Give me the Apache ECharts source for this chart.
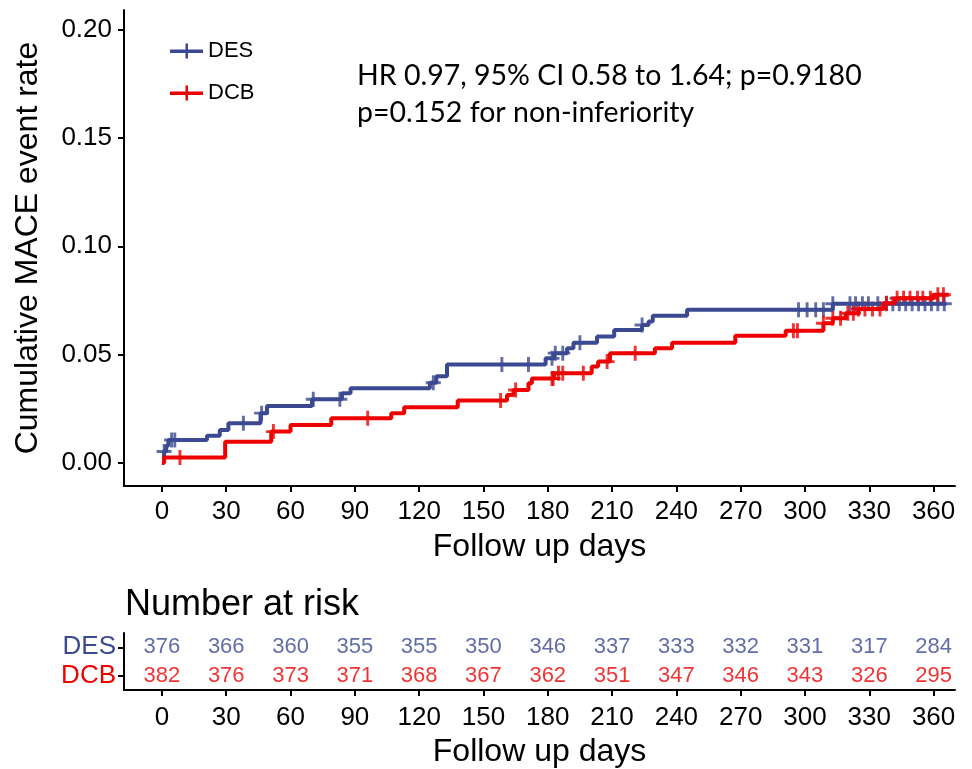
<!DOCTYPE html>
<html>
<head>
<meta charset="utf-8">
<script src="https://cdn.jsdelivr.net/npm/echarts@6/dist/echarts.min.js"></script>
<style>
  html, body { margin: 0; background: #fff; }
  #chart { width: 972px; height: 769px; }
</style>
</head>
<body>
<div id="chart"></div>
<script>
// groups and colours
const groups = ['DES', 'DCB'];
const colors = { DES: '#3B4992', DCB: '#EE0000' };

// axis ticks
const dayTicks = [0, 30, 60, 90, 120, 150, 180, 210, 240, 270, 300, 330, 360];
const rateTicks = [0, 0.05, 0.1, 0.15, 0.2];

// cumulative event rate steps [day, rate]
const desSteps = [
  [0, 0.0027], [1, 0.0053], [2, 0.008], [3, 0.0106], [21, 0.0126], [27, 0.0152],
  [31, 0.0183], [46, 0.023], [49, 0.0263], [70, 0.0294], [84, 0.0322], [88, 0.0345],
  [125, 0.037], [128, 0.040], [133, 0.0455], [179, 0.0483], [183, 0.0507], [189, 0.053],
  [192, 0.0555], [203, 0.0584], [211, 0.0614], [224, 0.0637], [227, 0.0653], [229, 0.068],
  [245, 0.0707], [313, 0.0735], [366, 0.0735]
];
const dcbSteps = [
  [0, 0], [1, 0.0026], [29.5, 0.0098], [51, 0.0145], [60, 0.0175], [79, 0.0207],
  [107, 0.023], [113, 0.0257], [138, 0.0288], [161, 0.0314], [164, 0.0337], [171, 0.0368],
  [172.6, 0.039], [183, 0.0414], [200.5, 0.0445], [203.5, 0.0468], [209, 0.0507], [230, 0.053],
  [238, 0.0555], [267.5, 0.0587], [291, 0.061], [308.6, 0.0645], [313, 0.0668], [319, 0.0691],
  [325, 0.0711], [336.6, 0.0737], [342, 0.076], [360, 0.0776], [367, 0.0776]
];

// censored times (days)
const desCensor = [1, 4.5, 6, 38, 46.5, 70.6, 83, 126.6, 158.6, 171, 182, 183.5, 187, 195, 224,
  297, 301, 305, 308.6, 313, 321, 323.6, 326.8, 329.6, 334, 338, 341, 344, 347, 350, 353, 356,
  359, 362, 365];
const dcbCensor = [8.4, 52, 96, 158, 165, 182, 182.5, 185, 187, 196.6, 207.7, 220.8, 294.6,
  296.5, 308.6, 313, 316.6, 320, 322.6, 325, 328, 331.5, 335, 338, 343, 346, 349, 352.5, 355,
  358.5, 362, 364.6];

// number at risk
const riskDES = [376, 366, 360, 355, 355, 350, 346, 337, 333, 332, 331, 317, 284];
const riskDCB = [382, 376, 373, 371, 368, 367, 362, 351, 347, 346, 343, 326, 295];

const stepsOf = { DES: desSteps, DCB: dcbSteps };
const censorOf = { DES: desCensor, DCB: dcbCensor };
const riskOf = { DES: riskDES, DCB: riskDCB };

const valueAt = (steps, t) => {
  let v = steps[0][1];
  for (const [x, y] of steps) if (x <= t) v = y;
  return v;
};

const FONT = 'Liberation Sans';
const plusPath = 'path://M5,0h2.4v12.4h-2.4zM0,5h12.4v2.4h-12.4z';
const legendIcon = 'path://M0,6h33v3.5h-33zM15.5,0h2.5v15h-2.5z';

const axisLineStyle = { show: true, onZero: false, lineStyle: { color: '#000', width: 2 } };
const tickStyle = { show: true, length: 6, lineStyle: { color: '#000', width: 2 } };

const xAxisBase = (gridIndex, margin, nameGap) => ({
  type: 'value', gridIndex, min: -17.7, max: 370,
  axisLine: axisLineStyle,
  axisTick: Object.assign({ customValues: dayTicks }, tickStyle),
  axisLabel: { customValues: dayTicks, fontSize: 26, color: '#000', fontFamily: FONT, margin },
  splitLine: { show: false },
  name: 'Follow up days', nameLocation: 'middle', nameGap,
  nameTextStyle: { fontSize: 32, color: '#000', fontFamily: FONT }
});

const series = [];
groups.forEach((g) => {
  series.push({
    name: g, type: 'line', step: 'end', xAxisIndex: 0, yAxisIndex: 0,
    data: stepsOf[g], showSymbol: false,
    lineStyle: { color: colors[g], width: 4 }, itemStyle: { color: colors[g] }
  });
  series.push({
    name: g + ' censor', type: 'scatter', xAxisIndex: 0, yAxisIndex: 0,
    symbol: plusPath, symbolSize: 15,
    itemStyle: { color: colors[g] },
    data: censorOf[g].map((t) => [t, valueAt(stepsOf[g], t)])
  });
});
groups.forEach((g) => {
  series.push({
    name: g + ' risk', type: 'scatter', xAxisIndex: 1, yAxisIndex: 1,
    symbolSize: 0,
    label: {
      show: true, position: 'inside', fontSize: 22, fontFamily: FONT, color: colors[g],
      formatter: (p) => p.value[2]
    },
    data: dayTicks.map((t, i) => [t, g, riskOf[g][i]])
  });
});

const chart = echarts.init(document.getElementById('chart'));
chart.setOption({
  animation: false,
  backgroundColor: '#fff',
  title: {
    text: 'Number at risk', left: 120, top: 582,
    textStyle: { fontSize: 36, fontWeight: 'normal', color: '#000', fontFamily: FONT }
  },
  legend: {
    data: groups.map((g) => ({ name: g, icon: legendIcon })),
    orient: 'vertical', left: 165, top: 35, itemWidth: 33, itemHeight: 15, itemGap: 20,
    textStyle: { fontSize: 22, color: '#000', fontFamily: FONT }
  },
  grid: [
    { left: 124, right: 17, top: 10, bottom: 283 },
    { left: 124, right: 17, top: 633, bottom: 77 }
  ],
  xAxis: [xAxisBase(0, 13, 45), xAxisBase(1, 15, 46)],
  yAxis: [
    {
      type: 'value', gridIndex: 0, min: -0.0106, max: 0.209,
      axisLine: axisLineStyle,
      axisTick: Object.assign({ customValues: rateTicks }, tickStyle),
      axisLabel: {
        customValues: rateTicks, fontSize: 26, color: '#000', fontFamily: FONT, margin: 12,
        formatter: (v) => v.toFixed(2)
      },
      splitLine: { show: false },
      name: 'Cumulative MACE event rate', nameLocation: 'middle', nameGap: 80,
      nameTextStyle: { fontSize: 32, color: '#000', fontFamily: FONT }
    },
    {
      type: 'category', gridIndex: 1, data: ['DCB', 'DES'],
      axisLine: axisLineStyle,
      axisTick: Object.assign({ alignWithLabel: true, interval: 0 }, tickStyle),
      axisLabel: {
        interval: 0, fontSize: 26, fontFamily: FONT, margin: 8,
        color: (v) => colors[v]
      }
    }
  ],
  graphic: [{
    type: 'text', left: 357, top: 57,
    style: {
      text: 'HR 0.97, 95% CI 0.58 to 1.64; p=0.9180\np=0.152 for non-inferiority',
      font: '28.5px Lato', fill: '#000', lineHeight: 37
    }
  }],
  series
});
</script>
</body>
</html>
